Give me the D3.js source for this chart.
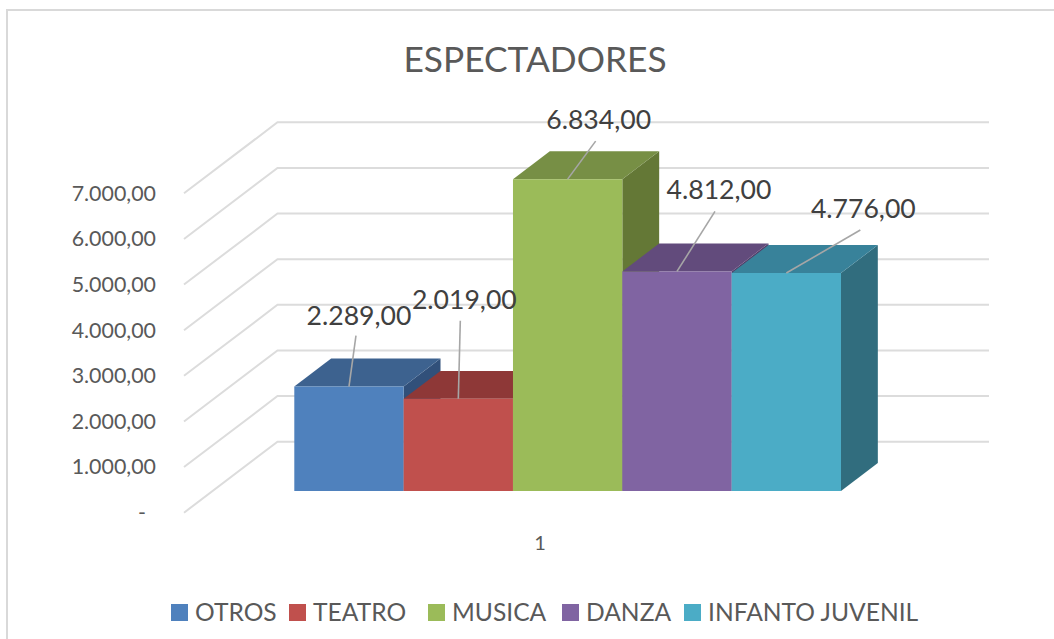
<!DOCTYPE html>
<html>
<head>
<meta charset="utf-8">
<script src="https://cdn.jsdelivr.net/npm/d3@7"></script>
<style>
  html, body { margin: 0; padding: 0; background: #fff; overflow: hidden; }
  svg { display: block; font-family: Lato, "Open Sans", sans-serif; }
</style>
</head>
<body>
<div id="chart"></div>
<script>
const series = ['OTROS', 'TEATRO', 'MUSICA', 'DANZA', 'INFANTO JUVENIL']
const values = [2289, 2019, 6834, 4812, 4776]
const yTicks = [0, 1000, 2000, 3000, 4000, 5000, 6000, 7000]
const categoryLabel = '1'
const title = 'ESPECTADORES'

const frontColors = ['#4f81bd', '#c0504d', '#9bbb59', '#8064a2', '#4bacc6']
const topColors = ['#3d628f', '#8e3837', '#778f45', '#624b7c', '#38829a']
const sideColors = ['#31507a', '#7a2f2d', '#647836', '#523d69', '#316d7e']

// where each data label sits relative to the top of its bar (chart has them hand placed)
const labelOffsets = [[10, -62], [6, -90], [31, -50], [42, -72], [77, -55]]
const leaderEnds = [[7, -51], [2, -78], [28, -38], [38, -60], [74, -43]]
const legendX = [171, 289, 428, 562, 684]

const width = 1054
const height = 639

// depth of the 3d box, d=0 front plane of floor, d=1 back wall
const depthX = 93.5
const depthY = 71
const barD0 = 0.306
const barD1 = 0.70
const project = (x, y, d) => [x + depthX * d, y - depthY * d]

const y = d3.scaleLinear().domain([0, 7000]).range([512.7, 193.3])
const x = d3.scaleBand().domain(series).range([294.3 - depthX * barD0, 841 - depthX * barD0])

const locale = d3.formatLocale({ decimal: ',', thousands: '.', grouping: [3] })
const fmt = locale.format(',.2f')

const svg = d3.select('#chart').append('svg')
  .attr('width', width)
  .attr('height', height)

// marco
svg.append('path')
  .attr('d', `M7,${height}V10H${width}`)
  .attr('fill', 'none')
  .attr('stroke', '#d9d9d9')
  .attr('stroke-width', 2)

svg.append('text')
  .attr('x', 535)
  .attr('y', 72)
  .attr('text-anchor', 'middle')
  .attr('font-size', 35.3)
  .attr('fill', '#595959')
  .text(title)

// rejilla: pared izquierda + pared del fondo
const grid = svg.append('g')
yTicks.forEach(t => {
  const p0 = [184, y(t)]
  const p1 = project(184, y(t), 1)
  grid.append('path')
    .attr('d', d3.line()([p0, p1, [989, p1[1]]]))
    .attr('fill', 'none')
    .attr('stroke', '#dcdcdc')
    .attr('stroke-width', 2)
})

const axis = d3.axisLeft(y)
  .tickValues(yTicks)
  .tickSize(0)
  .tickPadding(0)
  .tickFormat(d => d === 0 ? '-' : fmt(d))

const axisG = svg.append('g')
  .attr('transform', 'translate(156,0)')
  .call(axis)
axisG.select('.domain').remove()
axisG.selectAll('text')
  .attr('font-family', 'Lato, "Open Sans", sans-serif')
  .attr('font-size', 21.4)
  .attr('fill', '#595959')
axisG.selectAll('.tick')
  .filter(d => d === 0)
  .select('text')
  .attr('x', -10)

svg.append('text')
  .attr('x', 540)
  .attr('y', 550)
  .attr('text-anchor', 'middle')
  .attr('font-size', 20)
  .attr('fill', '#595959')
  .text(categoryLabel)

// barras de izquierda a derecha, asi la siguiente tapa el lateral de la anterior
const bars = svg.append('g')
series.forEach((name, i) => {
  const x0 = x(name)
  const x1 = x0 + x.bandwidth()
  const top = y(values[i])
  const base = y(0)
  const poly = pts => pts.map(p => p.join(',')).join(' ')

  const g = bars.append('g')
  g.append('polygon')
    .attr('points', poly([
      project(x1, top, barD0), project(x1, top, barD1),
      project(x1, base, barD1), project(x1, base, barD0)
    ]))
    .attr('fill', sideColors[i])
  g.append('polygon')
    .attr('points', poly([
      project(x0, top, barD0), project(x0, top, barD1),
      project(x1, top, barD1), project(x1, top, barD0)
    ]))
    .attr('fill', topColors[i])
  g.append('polygon')
    .attr('points', poly([
      project(x0, top, barD0), project(x1, top, barD0),
      project(x1, base, barD0), project(x0, base, barD0)
    ]))
    .attr('fill', frontColors[i])
})

// etiquetas con linea guia
const labels = svg.append('g')
series.forEach((name, i) => {
  const [cx, cy] = project(x(name) + x.bandwidth() / 2, y(values[i]), barD0)
  labels.append('line')
    .attr('x1', cx)
    .attr('y1', cy)
    .attr('x2', cx + leaderEnds[i][0])
    .attr('y2', cy + leaderEnds[i][1])
    .attr('stroke', '#a6a6a6')
    .attr('stroke-width', 1.6)
  labels.append('text')
    .attr('x', cx + labelOffsets[i][0])
    .attr('y', cy + labelOffsets[i][1])
    .attr('text-anchor', 'middle')
    .attr('font-size', 26.6)
    .attr('fill', '#404040')
    .text(fmt(values[i]))
})

const legend = svg.append('g')
series.forEach((name, i) => {
  legend.append('rect')
    .attr('x', legendX[i])
    .attr('y', 604)
    .attr('width', 17)
    .attr('height', 17)
    .attr('fill', frontColors[i])
  legend.append('text')
    .attr('x', legendX[i] + 24)
    .attr('y', 621)
    .attr('font-size', 24.6)
    .attr('fill', '#595959')
    .text(name)
})
</script>
</body>
</html>
